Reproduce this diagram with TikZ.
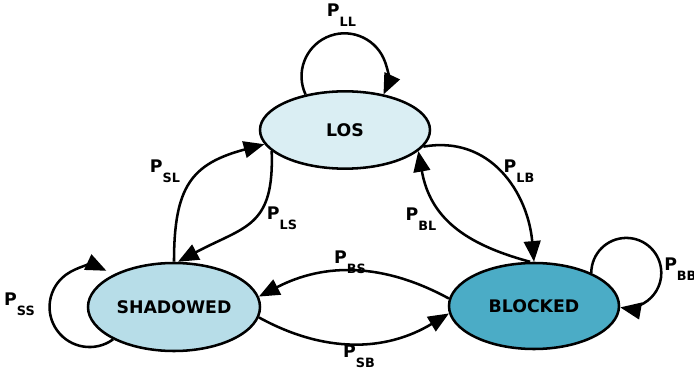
\documentclass[tikz,border=0pt]{standalone}
\usepackage{fontspec}
\setmainfont{DejaVu Sans}
\usetikzlibrary{shapes.geometric,arrows.meta}

\definecolor{losfill}{HTML}{DAEEF3}
\definecolor{shfill}{HTML}{B7DDE8}
\definecolor{blfill}{HTML}{4BACC6}

\newcommand{\prob}[1]{P\raisebox{-7.5pt}{\fontsize{9.6}{11}\selectfont #1}}

\tikzset{
  state/.style={draw,ellipse,line width=1.9pt,inner sep=0pt,
    font=\fontsize{13}{15}\selectfont\bfseries},
  link/.style={line width=1.9pt,-{Triangle[length=15.5pt,width=12.5pt]}},
  lbl/.style={inner sep=0pt,font=\fontsize{13}{15}\selectfont\bfseries}
}

\begin{document}
\begin{tikzpicture}[x=0.75pt,y=0.75pt]
\useasboundingbox (0,0) rectangle (694,372);
% states
\node[state,fill=losfill,minimum width=127.5pt,minimum height=58pt] (los) at (345,242) {LOS};
\node[state,fill=shfill,minimum width=129pt,minimum height=66pt] (sh) at (174,65) {SHADOWED};
\node[state,fill=blfill,minimum width=127.5pt,minimum height=64.5pt] (bl) at (534,66) {BLOCKED};
% self loops
\draw[link] (los.138) arc[start angle=205,end angle=-25,radius=43];
\draw[link] (sh.208) arc[start angle=-54,end angle=-295,radius=40];
\draw[link] (bl.30) arc[start angle=180,end angle=-100,radius=35];
% transitions
\draw[link] (sh.north) to[out=90,in=195,looseness=1.3] (los.190);
\draw[link] (los.196) to[out=-88,in=28,looseness=1.35] (sh.85);
\draw[link] (los.-12) to[out=10,in=95,looseness=1.1] (bl.north);
\draw[link] (bl.95) to[out=165,in=-80,looseness=1.1] (los.-16);
\draw[link] (bl.175) to[bend right=28] (sh.7);
\draw[link] (sh.353) to[bend right=30] (bl.185);
% labels
\node[lbl] (pll) at (341.5,357) {\prob{LL}};
\node[lbl] (psl) at (165,201) {\prob{SL}};
\node[lbl] (pls) at (282,154) {\prob{LS}};
\node[lbl] (pbl) at (421,153) {\prob{BL}};
\node[lbl] (plb) at (519,201) {\prob{LB}};
\node[lbl] (pbs) at (350,110) {\prob{BS}};
\node[lbl] (psb) at (359,16) {\prob{SB}};
\node[lbl] (pss) at (19.5,68) {\prob{SS}};
\node[lbl,anchor=west] (pbb) at (664,103) {\prob{BB}};
\end{tikzpicture}
\end{document}
